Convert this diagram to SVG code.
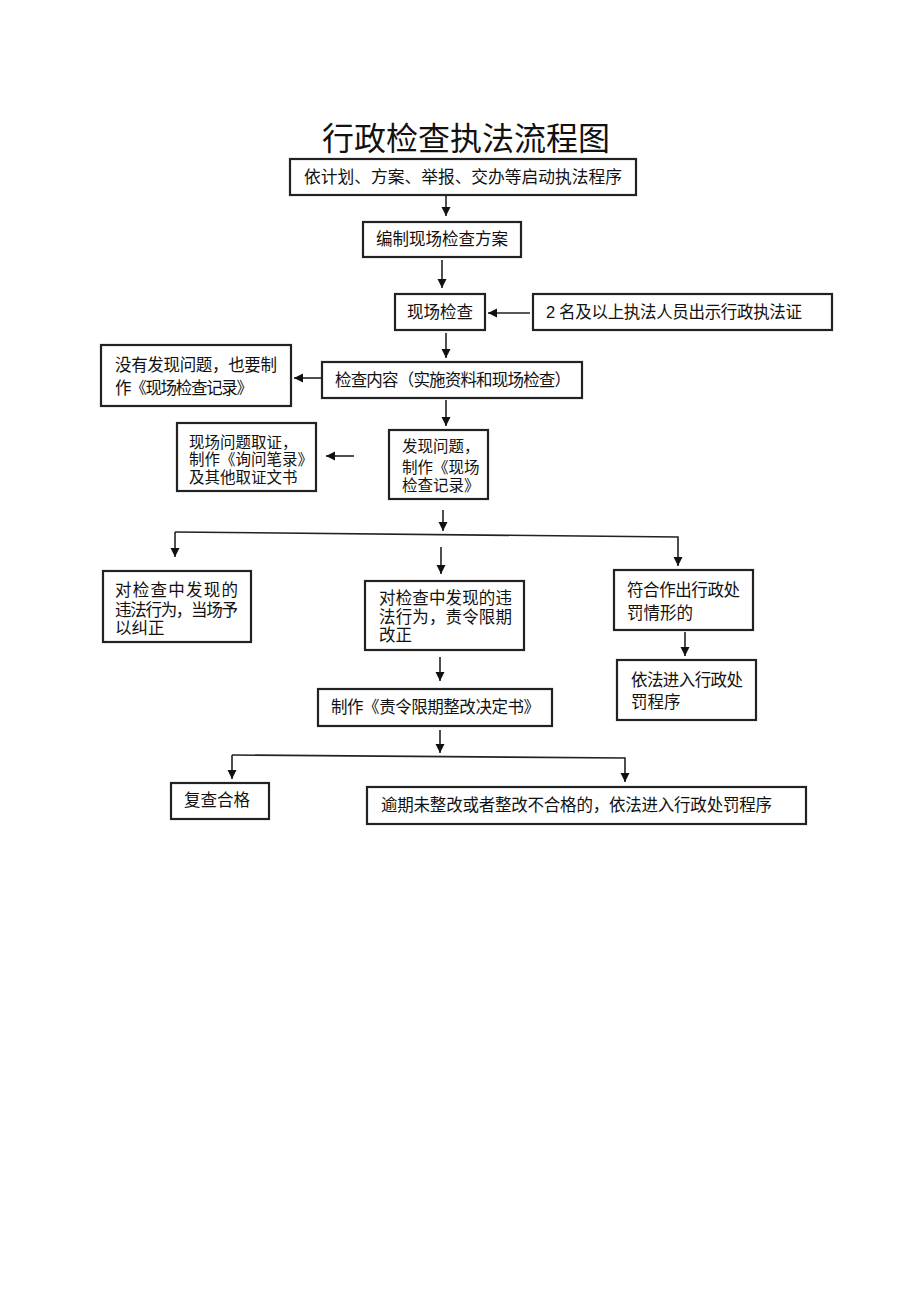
<svg xmlns="http://www.w3.org/2000/svg" width="920" height="1301" viewBox="0 0 920 1301">
<style>
.b{fill:#fff;stroke:#222;stroke-width:2.2}
.t{font-family:"Liberation Sans","Noto Sans CJK SC",sans-serif;font-size:16.5px;fill:#111}
.s{font-size:15.5px}
.ti{font-family:"Noto Sans CJK SC",sans-serif;font-size:32px;fill:#111}
.c{fill:none;stroke:#222;stroke-width:1.6}
</style>
<defs>
<marker id="ah" markerWidth="10" markerHeight="10" refX="9" refY="5" orient="auto" markerUnits="userSpaceOnUse">
<path d="M0,0.5 L9,5 L0,9.5 Z" fill="#111"/>
</marker>
</defs>
<rect width="920" height="1301" fill="#fff"/>
<text class="ti" x="466" y="150" text-anchor="middle">行政检查执法流程图</text>
<g id="connectors">
<line class="c" x1="446" y1="196" x2="446" y2="216" marker-end="url(#ah)"/>
<line class="c" x1="442" y1="260" x2="442" y2="288" marker-end="url(#ah)"/>
<line class="c" x1="530" y1="313" x2="488" y2="313" marker-end="url(#ah)"/>
<line class="c" x1="446" y1="333" x2="446" y2="358" marker-end="url(#ah)"/>
<line class="c" x1="322" y1="378" x2="294" y2="378" marker-end="url(#ah)"/>
<line class="c" x1="446" y1="400" x2="446" y2="426" marker-end="url(#ah)"/>
<line class="c" x1="354" y1="456" x2="326" y2="456" marker-end="url(#ah)"/>
<line class="c" x1="443" y1="510" x2="443" y2="531" marker-end="url(#ah)"/>
<polyline class="c" points="175,532 678,537 678,566" marker-end="url(#ah)"/>
<line class="c" x1="175" y1="532" x2="175" y2="557" marker-end="url(#ah)"/>
<line class="c" x1="441" y1="547" x2="441" y2="574" marker-end="url(#ah)"/>
<line class="c" x1="685" y1="632" x2="685" y2="656" marker-end="url(#ah)"/>
<line class="c" x1="440" y1="657" x2="440" y2="681" marker-end="url(#ah)"/>
<line class="c" x1="440" y1="730" x2="440" y2="753" marker-end="url(#ah)"/>
<polyline class="c" points="232,755 625,758 625,782" marker-end="url(#ah)"/>
<line class="c" x1="232" y1="755" x2="232" y2="779" marker-end="url(#ah)"/>
</g>
<g id="n1"><rect class="b" x="290" y="159" width="346" height="36"/><text class="t" x="304" y="183" font-size="17" textLength="318" lengthAdjust="spacingAndGlyphs">依计划、方案、举报、交办等启动执法程序</text></g>
<g id="n2"><rect class="b" x="363" y="222" width="158" height="35"/><text class="t" x="376" y="245">编制现场检查方案</text></g>
<g id="n3"><rect class="b" x="395" y="294" width="90" height="36"/><text class="t" x="440" y="318" text-anchor="middle">现场检查</text></g>
<g id="n4"><rect class="b" x="533" y="294" width="299" height="36"/><text class="t" x="546" y="318" textLength="256">2 名及以上执法人员出示行政执法证</text></g>
<g id="n5"><rect class="b" x="322" y="362" width="260" height="36"/><text class="t" x="335" y="386" textLength="236">检查内容（实施资料和现场检查）</text></g>
<g id="n6"><rect class="b" x="101" y="345" width="190" height="61"/><text class="t" x="115" y="371" textLength="162">没有发现问题，也要制</text><text class="t" x="115" y="394" textLength="138">作《现场检查记录》</text></g>
<g id="n7"><rect class="b" x="389" y="430" width="99" height="69"/><text class="t s" x="402" y="452">发现问题，</text><text class="t s" x="402" y="473">制作《现场</text><text class="t s" x="402" y="491">检查记录》</text></g>
<g id="n8"><rect class="b" x="177" y="423" width="139" height="68"/><text class="t s" x="189" y="448">现场问题取证，</text><text class="t s" x="189" y="465">制作《询问笔录》</text><text class="t s" x="189" y="483">及其他取证文书</text></g>
<g id="n9"><rect class="b" x="103" y="571" width="148" height="71"/><text class="t" x="115" y="596" textLength="123">对检查中发现的</text><text class="t" x="115" y="616" textLength="123">违法行为，当场予</text><text class="t" x="115" y="634">以纠正</text></g>
<g id="n10"><rect class="b" x="365" y="581" width="159" height="69"/><text class="t" x="379" y="604" textLength="133">对检查中发现的违</text><text class="t" x="379" y="623" textLength="133">法行为，责令限期</text><text class="t" x="379" y="641">改正</text></g>
<g id="n11"><rect class="b" x="614" y="570" width="139" height="60"/><text class="t" x="627" y="596" textLength="113">符合作出行政处</text><text class="t" x="627" y="619">罚情形的</text></g>
<g id="n12"><rect class="b" x="617" y="660" width="139" height="60"/><text class="t" x="631" y="686" textLength="112">依法进入行政处</text><text class="t" x="631" y="708">罚程序</text></g>
<g id="n13"><rect class="b" x="318" y="689" width="234" height="37"/><text class="t" x="331" y="713" textLength="209">制作《责令限期整改决定书》</text></g>
<g id="n14"><rect class="b" x="171" y="783" width="98" height="36"/><text class="t" x="184" y="806">复查合格</text></g>
<g id="n15"><rect class="b" x="367" y="787" width="439" height="37"/><text class="t" x="381" y="811" textLength="391">逾期未整改或者整改不合格的，依法进入行政处罚程序</text></g>
</svg>
